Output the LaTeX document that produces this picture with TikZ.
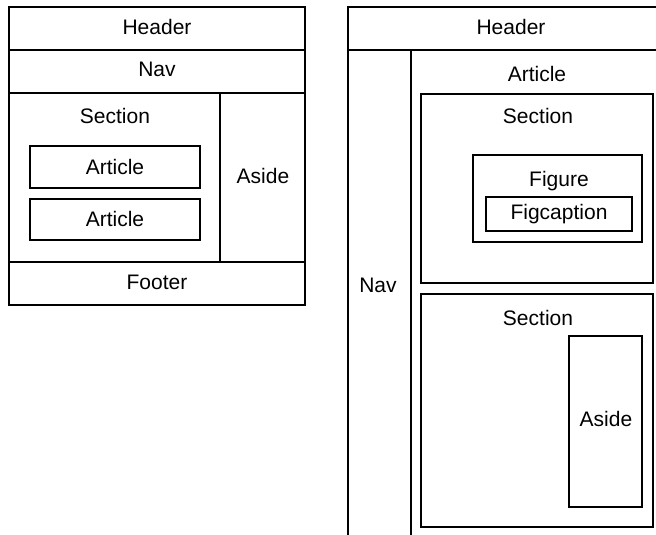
\documentclass[tikz,border=0pt]{standalone}
\usepackage{fontspec}
\setmainfont{Liberation Sans}
\usepackage{tikz}

\begin{document}
\begin{tikzpicture}[x=1pt,y=-1pt]
\tikzstyle{every node}=[inner sep=0pt,font=\fontsize{21}{24}\selectfont,text height=15pt,text depth=0pt];
\tikzstyle{frame}=[line width=2.2pt,line cap=rect];
\useasboundingbox (0,0) rectangle (656,535);
% draw layout 1
%   boxes
    \draw[frame] (9,7) rectangle (305,305);
    \draw[frame] (9,50) -- (305,50);
    \draw[frame] (9,93) -- (305,93);
    \draw[frame] (9,262) -- (305,262);
    \draw[frame] (220,93) -- (220,262);
    \draw[frame] (30,146) rectangle (200,188);
    \draw[frame] (30,199) rectangle (200,240);
%   labels
    \node (hdrA) at (157,27) {Header};
    \node (navA) at (157,69) {Nav};
    \node (secA) at (115,116) {Section};
    \node (artA1) at (115,167) {Article};
    \node (artA2) at (115,219) {Article};
    \node (asideA) at (263,176) {Aside};
    \node (footA) at (157,282) {Footer};
% draw layout 2
%   boxes
    \draw[frame,line cap=butt] (656,7) -- (348,7) -- (348,535);
    \draw[frame,line cap=butt] (348,50) -- (656,50);
    \draw[frame,line cap=butt] (411,50) -- (411,535);
    \draw[frame] (421,94) rectangle (653,283);
    \draw[frame] (473,155) rectangle (642,242);
    \draw[frame] (486,197) rectangle (632,231);
    \draw[frame] (421,294) rectangle (653,527);
    \draw[frame] (569,336) rectangle (642,507);
%   labels
    \node (hdrB) at (511,27) {Header};
    \node (navB) at (378,285) {Nav};
    \node (artB) at (537,74) {Article};
    \node (secB1) at (538,116) {Section};
    \node (figB) at (559,179) {Figure};
    \node (capB) at (559,212) {Figcaption};
    \node (secB2) at (538,318) {Section};
    \node (asideB) at (606,419) {Aside};
\end{tikzpicture}
\end{document}
